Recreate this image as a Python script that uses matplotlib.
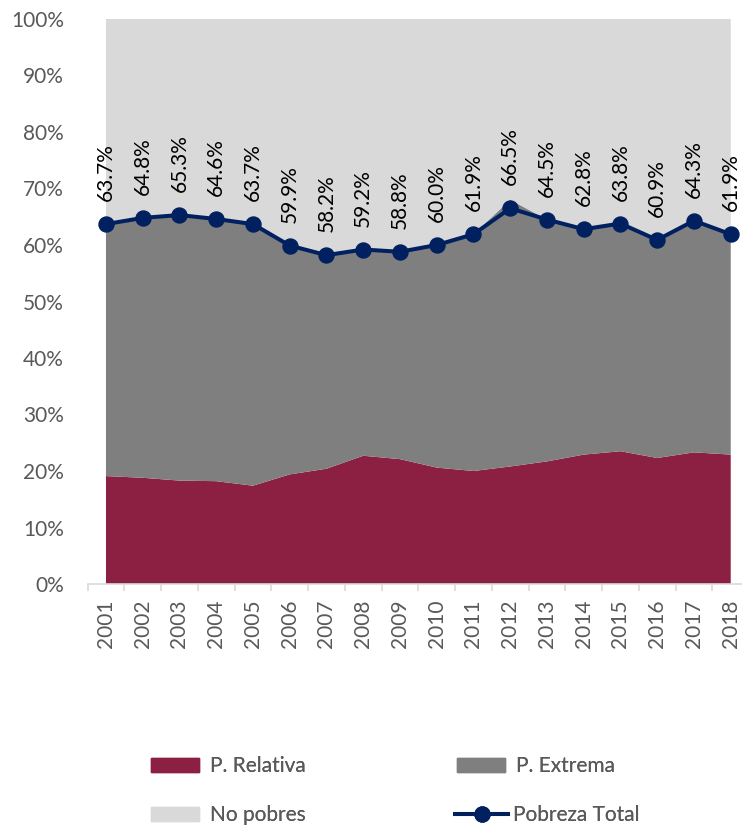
import matplotlib
matplotlib.use("Agg")
import matplotlib.pyplot as plt
from matplotlib.patches import Patch
from matplotlib.lines import Line2D

years = ["2001", "2002", "2003", "2004", "2005", "2006", "2007", "2008", "2009",
         "2010", "2011", "2012", "2013", "2014", "2015", "2016", "2017", "2018"]
pobreza_total = [63.7, 64.8, 65.3, 64.6, 63.7, 59.9, 58.2, 59.2, 58.8,
                 60.0, 61.9, 66.5, 64.5, 62.8, 63.8, 60.9, 64.3, 61.9]
p_relativa = [19.1, 18.8, 18.3, 18.2, 17.4, 19.4, 20.4, 22.7, 22.1,
              20.6, 20.0, 20.8, 21.7, 22.9, 23.5, 22.3, 23.3, 22.9]
p_extrema = [44.6, 46.0, 47.0, 46.4, 46.3, 40.5, 37.8, 36.5, 36.7,
             39.4, 41.9, 47.2, 42.8, 39.9, 40.3, 38.6, 41.0, 39.0]
no_pobres = [100 - r - e for r, e in zip(p_relativa, p_extrema)]
y_ticks = [0, 10, 20, 30, 40, 50, 60, 70, 80, 90, 100]

c_rel = "#8B2042"
c_ext = "#7F7F7F"
c_no = "#D9D9D9"
c_line = "#002060"
c_txt = "#595959"

plt.rcParams['font.family'] = ['Lato', 'DejaVu Sans']
FS = 15

W, H = 742, 826
fig = plt.figure(figsize=(W / 100, H / 100), dpi=100)
ax = fig.add_axes([87.6 / W, (H - 584) / H, 661.5 / W, 565 / H])

x = list(range(len(years)))
ax.stackplot(x, p_relativa, p_extrema, no_pobres, colors=[c_rel, c_ext, c_no],
             linewidth=0)
ax.plot(x, pobreza_total, color=c_line, lw=2.9, marker='o', markersize=10.8,
        zorder=5, clip_on=False)
for xi, v in zip(x, pobreza_total):
    ax.annotate(f"{v:.1f}%", (xi, v), xytext=(0, 16.5), textcoords='offset points',
                rotation=90, ha='center', va='bottom', fontsize=FS, color='black',
                zorder=6)

ax.set_xlim(-0.5, 17.5)
ax.set_ylim(0, 100)
for s in ['top', 'right', 'left']:
    ax.spines[s].set_visible(False)
ax.spines['bottom'].set_color(c_no)
ax.spines['bottom'].set_linewidth(1.2)

ax.set_xticks(x)
ax.set_xticklabels(years, rotation=90, fontsize=FS, color=c_txt)
ax.set_xticks([i - 0.5 for i in range(len(years) + 1)], minor=True)
ax.tick_params(axis='x', which='major', length=0, pad=11.5)
ax.tick_params(axis='x', which='minor', length=5, color=c_no, width=1.2)

ax.set_yticks(y_ticks)
ax.set_yticklabels([f"{t}%" for t in y_ticks], fontsize=FS, color=c_txt)
ax.tick_params(axis='y', length=0, pad=17)

fs_px = FS * 100 / 72

def add_leg(handle, label, xpx, ypx, hl, pad):
    leg = fig.legend([handle], [label], loc='center left',
                     bbox_to_anchor=(xpx / W, (H - ypx) / H),
                     frameon=False, fontsize=FS, borderpad=0, borderaxespad=0,
                     handlelength=hl, handleheight=0.67, handletextpad=pad,
                     labelcolor=c_txt)
    fig.add_artist(leg)

add_leg(Patch(color=c_rel), "P. Relativa", 151, 766, 48 / fs_px, 11 / fs_px)
add_leg(Patch(color=c_ext), "P. Extrema", 457, 766, 48 / fs_px, 11 / fs_px)
add_leg(Patch(color=c_no), "No pobres", 151, 815, 48 / fs_px, 11 / fs_px)
add_leg(Line2D([], [], color=c_line, lw=2.9, marker='o', markersize=10.8),
        "Pobreza Total", 455, 815, 53 / fs_px, 5 / fs_px)

fig.savefig("out.png", dpi=100)
